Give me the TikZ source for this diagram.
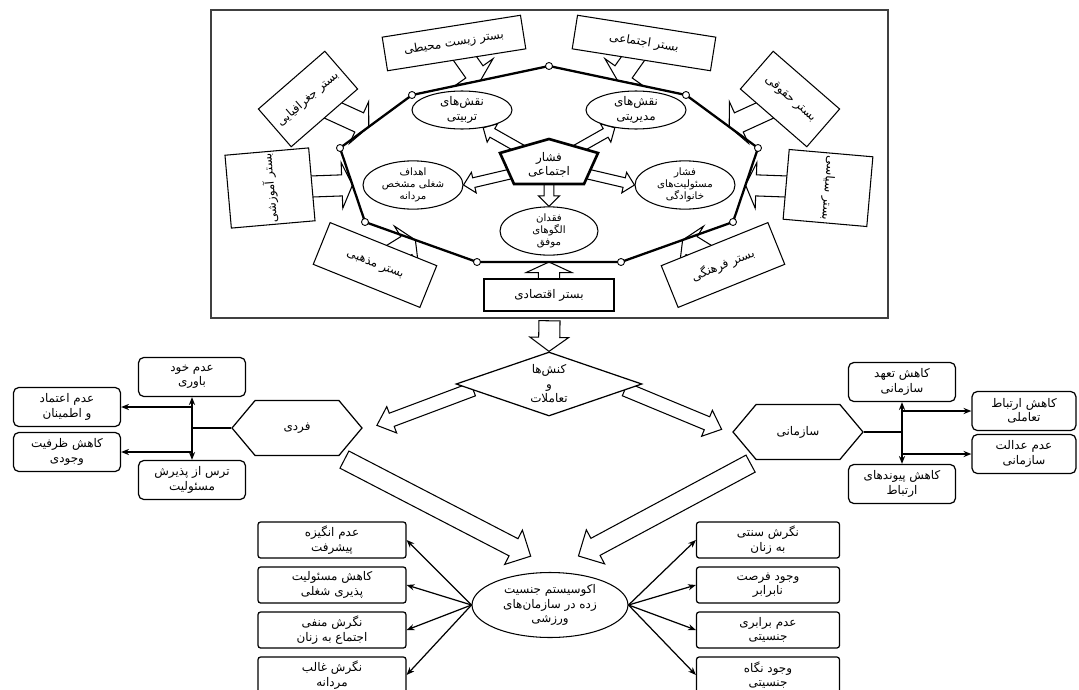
\documentclass[tikz,border=0pt]{standalone}
\usepackage{fontspec}
\newfontfamily\farsi[Script=Arabic]{DejaVu Sans}
\usetikzlibrary{shapes.geometric,shapes.symbols,arrows.meta,calc}
\TeXXeTstate=1
\newcommand{\rl}[1]{\beginR#1\endR}
\pgfdeclarelayer{bg}
\pgfsetlayers{bg,main}
\tikzset{
  fat/.style n args={3}{draw, fill=white, line width=0.6pt,
    to path={let \p1=(\tikztostart), \p2=(\tikztotarget),
      \n1={atan2(\y2-\y1,\x2-\x1)}, \n2={veclen(\x2-\x1,\y2-\y1)} in
      [rotate around={\n1:(\p1)}]
      (\p1) ++(0pt,#1) -- ++({\n2-#3},0pt) -- ++(0pt,{#2-#1}) -- ++(#3,-#2)
      -- ++(-#3,-#2) -- ++(0pt,{#2-#1}) -- ++({#3-\n2},0pt) -- cycle}},
}
\begin{document}
\begin{tikzpicture}[x=0.02cm, y=-0.02cm,
    every node/.style={font=\farsi\fontsize{6.8}{8.2}\selectfont, align=center, inner sep=1pt},
    frm/.style={draw=black!75, line width=1.2pt, inner sep=0pt},
    ctx/.style={draw, fill=white, line width=0.6pt},
    ell/.style={draw, ellipse, fill=white, line width=0.6pt, inner sep=0pt},
    small/.style={font=\farsi\fontsize{5.8}{6.8}\selectfont},
    hexa/.style={draw, fill=white, signal, signal to=west and east, signal pointer angle=100,
      line width=0.7pt, minimum width=2.6cm, minimum height=1.1cm},
    item/.style={draw, fill=white, rounded corners=3pt, line width=0.7pt,
      minimum width=2.14cm, minimum height=0.78cm},
    leaf/.style={draw, fill=white, rounded corners=1.5pt, line width=0.7pt,
      minimum width=2.96cm, minimum height=0.72cm},
    tip/.style={-{Stealth[length=4.5pt,width=3.5pt]}, line width=0.7pt},
    vtx/.style={draw, fill=white, circle, inner sep=0pt, minimum size=4pt, line width=0.5pt}]
  \useasboundingbox (0,0) rectangle (1079,690);

  \node[frm, minimum width=13.54cm, minimum height=6.16cm] (frame) at (549.5,164) {};

  \coordinate (v1) at (549,66);
  \coordinate (v2) at (686,95);
  \coordinate (v3) at (758,148);
  \coordinate (v4) at (733,222);
  \coordinate (v5) at (621,262);
  \coordinate (v6) at (477,262);
  \coordinate (v7) at (365,222);
  \coordinate (v8) at (340,148);
  \coordinate (v9) at (412,95);

  \node[ctx, rotate=9, minimum width=2.8cm, minimum height=0.68cm] (c1) at (454,43) {\rl{بستر زیست محیطی}};
  \node[ctx, rotate=-9, minimum width=2.8cm, minimum height=0.68cm] (c2) at (644,43) {\rl{بستر اجتماعی}};
  \node[ctx, rotate=41, minimum width=1.76cm, minimum height=1cm] (c3) at (308,99) {\rl{بستر جغرافیایی}};
  \node[ctx, rotate=-41, minimum width=1.76cm, minimum height=1cm] (c4) at (790,99) {\rl{بستر حقوقی}};
  \node[ctx, rotate=95, minimum width=1.4cm, minimum height=1.68cm] (c5) at (270,188) {\rl{بستر آموزشی}};
  \node[ctx, rotate=-95, minimum width=1.4cm, minimum height=1.68cm] (c6) at (828,188) {\rl{بستر سیاسی}};
  \node[ctx, rotate=-22, minimum width=2.3cm, minimum height=0.9cm] (c7) at (375,265) {\rl{بستر مذهبی}};
  \node[ctx, rotate=22, minimum width=2.3cm, minimum height=0.9cm] (c8) at (723,265) {\rl{بستر فرهنگی}};
  \node[ctx, minimum width=2.6cm, minimum height=0.64cm] (c9) at (549,295) {\rl{بستر اقتصادی}};

  \coordinate (t1) at ($(v9)!0.5!(v1)$);
  \coordinate (t2) at ($(v1)!0.5!(v2)$);
  \coordinate (t3) at ($(v8)!0.4!(v9)$);
  \coordinate (t4) at ($(v3)!0.4!(v2)$);
  \coordinate (t5) at ($(v8)!0.5!(v7)$);
  \coordinate (t6) at ($(v3)!0.5!(v4)$);
  \coordinate (t7) at ($(v7)!0.45!(v6)$);
  \coordinate (t8) at ($(v4)!0.45!(v5)$);
  \coordinate (t9) at ($(v6)!0.5!(v5)$);

  \draw[line width=1.3pt] (v1) -- (v2) -- (v3) -- (v4) -- (v5) -- (v6) -- (v7) -- (v8) -- (v9) -- cycle;
  \foreach \i in {1,...,9} \node[vtx] (o\i) at (v\i) {};

  \node[ell, minimum width=2cm, minimum height=0.76cm] (e1) at (462,110) {\rl{نقش‌های}\\\rl{تربیتی}};
  \node[ell, minimum width=2cm, minimum height=0.76cm] (e2) at (636,110) {\rl{نقش‌های}\\\rl{مدیریتی}};
  \node[ell, small, minimum width=2cm, minimum height=0.84cm] (e3) at (413,185) {\rl{اهداف}\\\rl{شغلی مشخص}\\\rl{مردانه}};
  \node[ell, small, minimum width=2cm, minimum height=0.84cm] (e4) at (685,185) {\rl{فشار}\\\rl{مسئولیت‌های}\\\rl{خانوادگی}};
  \node[ell, small, minimum width=1.96cm, minimum height=0.84cm] (e5) at (549,231) {\rl{فقدان}\\\rl{الگوهای}\\\rl{موفق}};

  \coordinate (p1) at (549,139);
  \coordinate (p2) at (598,153);
  \coordinate (p3) at (584,184);
  \coordinate (p4) at (514,184);
  \coordinate (p5) at (500,153);
  \draw[line width=1.5pt, fill=white] (p1) -- (p2) -- (p3) -- (p4) -- (p5) -- cycle;
  \node (pent) at (549,165) {\rl{فشار}\\\rl{اجتماعی}};

  \node[diamond, draw, fill=white, line width=0.7pt, aspect=2.8, inner sep=0pt,
    minimum width=3.72cm, minimum height=1.28cm] (dia) at (549,384) {\rl{کنش‌ها}\\\rl{و}\\\rl{تعاملات}};
  \coordinate (fb) at ([yshift=-1pt]frame.south);

  \node[hexa] (fardi) at (297,428) {\rl{فردی}};
  \node[hexa] (sazmani) at (798,432) {\rl{سازمانی}};
  \coordinate (sa) at ([xshift=10pt,yshift=-3pt]dia.west);
  \coordinate (ta) at ([xshift=8pt,yshift=1.5pt]fardi.east);
  \coordinate (sb) at ([xshift=-10pt,yshift=-3pt]dia.east);
  \coordinate (tb) at ([xshift=-6pt,yshift=1.5pt]sazmani.west);

  \node[item] (b1) at (192,377) {\rl{عدم خود}\\\rl{باوری}};
  \node[item] (b2) at (67,407) {\rl{عدم اعتماد}\\\rl{و اطمینان}};
  \node[item] (b3) at (67,452) {\rl{کاهش ظرفیت}\\\rl{وجودی}};
  \node[item] (b4) at (192,480) {\rl{ترس از پذیرش}\\\rl{مسئولیت}};
  \coordinate (jl) at (192,428);
  \draw[line width=0.7pt] (fardi.west) -- (jl);
  \draw[line width=1.2pt, {Stealth[length=4.5pt,width=3.5pt]}-{Stealth[length=4.5pt,width=3.5pt]}] (b1.south) -- (b4.north);
  \draw[tip] (b2.east -| jl) -- (b2.east);
  \draw[tip] (b3.east -| jl) -- (b3.east);

  \node[item] (r1) at (902,382) {\rl{کاهش تعهد}\\\rl{سازمانی}};
  \node[item, minimum width=2.08cm] (r2) at (1024,411) {\rl{کاهش ارتباط}\\\rl{تعاملی}};
  \node[item, minimum width=2.08cm] (r3) at (1024,454) {\rl{عدم عدالت}\\\rl{سازمانی}};
  \node[item] (r4) at (902,484) {\rl{کاهش پیوندهای}\\\rl{ارتباط}};
  \coordinate (jr) at (902,432);
  \draw[line width=0.7pt] (sazmani.east) -- (jr);
  \draw[line width=1.2pt, {Stealth[length=4.5pt,width=3.5pt]}-{Stealth[length=4.5pt,width=3.5pt]}] (r1.south) -- (r4.north);
  \draw[tip] (r2.west -| jr) -- (r2.west);
  \draw[tip] (r3.west -| jr) -- (r3.west);

  \node[ell, minimum width=3.12cm, minimum height=1.3cm] (eco) at (550,605) {\rl{اکوسیستم جنسیت}\\\rl{زده در سازمان‌های}\\\rl{ورزشی}};
  \coordinate (sl) at ([xshift=27pt,yshift=-2pt]fardi.south);
  \coordinate (tl) at ([xshift=-11pt,yshift=9pt]eco.north);
  \coordinate (sr) at ([xshift=-27pt,yshift=-2pt]sazmani.south);
  \coordinate (tr) at ([xshift=16pt,yshift=9pt]eco.north);

  \node[leaf] (L1) at (332,540) {\rl{عدم انگیزه}\\\rl{پیشرفت}};
  \node[leaf] (L2) at (332,585) {\rl{کاهش مسئولیت}\\\rl{پذیری شغلی}};
  \node[leaf] (L3) at (332,630) {\rl{نگرش منفی}\\\rl{اجتماع به زنان}};
  \node[leaf] (L4) at (332,675) {\rl{نگرش غالب}\\\rl{مردانه}};
  \node[leaf, minimum width=2.86cm] (R1) at (768,540) {\rl{نگرش سنتی}\\\rl{به زنان}};
  \node[leaf, minimum width=2.86cm] (R2) at (768,585) {\rl{وجود فرصت}\\\rl{نابرابر}};
  \node[leaf, minimum width=2.86cm] (R3) at (768,630) {\rl{عدم برابری}\\\rl{جنسیتی}};
  \node[leaf, minimum width=2.86cm] (R4) at (768,675) {\rl{وجود نگاه}\\\rl{جنسیتی}};
  \foreach \b in {L1,L2,L3,L4} \draw[tip] (eco.west) -- (\b.east);
  \foreach \b in {R1,R2,R3,R4} \draw[tip] (eco.east) -- (\b.west);

  \begin{pgfonlayer}{bg}
    \draw[fat={6pt}{13pt}{6pt}] (c1) to (t1);
    \draw[fat={6pt}{13pt}{6pt}] (c2) to (t2);
    \draw[fat={6pt}{13pt}{6pt}] (c3) to (t3);
    \draw[fat={6pt}{13pt}{6pt}] (c4) to (t4);
    \draw[fat={6pt}{13pt}{6pt}] (c5) to (t5);
    \draw[fat={6pt}{13pt}{6pt}] (c6) to (t6);
    \draw[fat={6pt}{13pt}{6pt}] (c7) to (t7);
    \draw[fat={6pt}{13pt}{6pt}] (c8) to (t8);
    \draw[fat={6pt}{13pt}{6pt}] (c9) to (t9);
    \draw[fat={2.8pt}{6pt}{6pt}] (pent) to (e1.-40);
    \draw[fat={2.8pt}{6pt}{6pt}] (pent) to (e2.-140);
    \draw[fat={2.8pt}{6pt}{6pt}] (pent) to (e3.east);
    \draw[fat={2.8pt}{6pt}{6pt}] (pent) to (e4.west);
    \draw[fat={2.8pt}{6pt}{6pt}] (pent) to (e5.north);
    \draw[fat={6pt}{11pt}{8pt}] (fb) to (dia.north);
    \draw[fat={4pt}{8pt}{9pt}] (sa) to (ta);
    \draw[fat={4pt}{8pt}{9pt}] (sb) to (tb);
    \draw[fat={5.5pt}{11pt}{11pt}] (sl) to (tl);
    \draw[fat={5.5pt}{11pt}{11pt}] (sr) to (tr);
  \end{pgfonlayer}
\end{tikzpicture}
\end{document}
